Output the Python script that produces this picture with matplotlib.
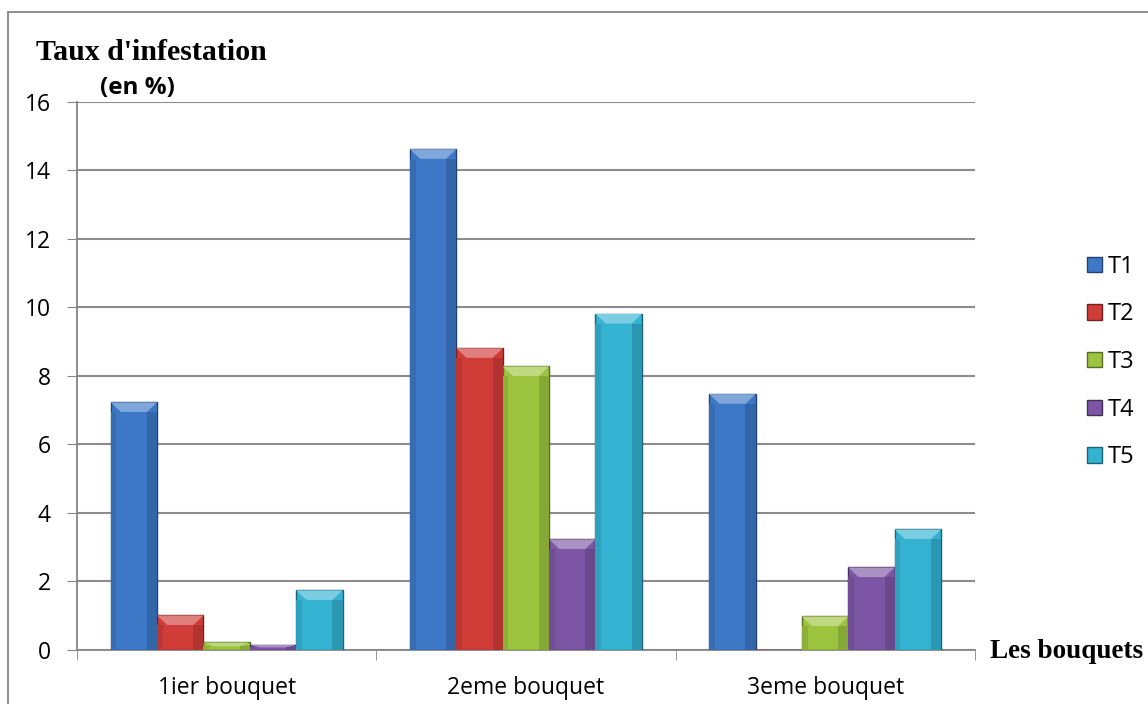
import numpy as np
import matplotlib
matplotlib.use("Agg")
from matplotlib import pyplot as plt
from matplotlib.patches import Polygon, Rectangle
import matplotlib.colors as mcolors

# taux d'infestation par bouquet et par traitement
bouquets = ['1ier bouquet', '2eme bouquet', '3eme bouquet']
series = ['T1', 'T2', 'T3', 'T4', 'T5']
t1 = [7.23, 14.62, 7.47]
t2 = [1.01, 8.81, 0.0]
t3 = [0.22, 8.28, 0.98]
t4 = [0.15, 3.23, 2.41]
t5 = [1.74, 9.81, 3.52]
valeurs = [t1, t2, t3, t4, t5]
couleurs = ['#3c78c6', '#d03c38', '#9cc43e', '#7c56a4', '#34b2d2']

fig = plt.figure(figsize=(11.48, 7.04), dpi=100)
ax = fig.add_axes([0.0671, 0.0767, 0.782, 0.7785])

# cadre du graphique
fig.patches.append(Rectangle((8 / 1148, -0.1), 1.2, (704 - 12) / 704 + 0.1,
                             transform=fig.transFigure, fill=False,
                             edgecolor='#868686', linewidth=1.3))

x = np.arange(len(bouquets))
larg = 0.155


def foncer(c, f):
    r, g, b = mcolors.to_rgb(c)
    return (r * f, g * f, b * f)


def eclaircir(c, f):
    r, g, b = mcolors.to_rgb(c)
    return (r + (1 - r) * f, g + (1 - g) * f, b + (1 - b) * f)


for i, (nom, vals, c) in enumerate(zip(series, valeurs, couleurs)):
    pos = x + (i - 2) * larg
    barres = ax.bar(pos, vals, width=larg, color=c, edgecolor=foncer(c, 0.55),
                    linewidth=1.0, label=nom, zorder=3)
    # biseau en haut de chaque barre
    for b in barres:
        h = b.get_height()
        if h <= 0:
            continue
        x0 = b.get_x()
        w = b.get_width()
        bev = min(0.28, h / 2)
        ins = w * 0.22
        ax.add_patch(Polygon([(x0, h), (x0 + w, h), (x0 + w - ins, h - bev), (x0 + ins, h - bev)],
                             closed=True, facecolor=eclaircir(c, 0.35), edgecolor='none', zorder=4))
        ax.add_patch(Rectangle((x0 + w * 0.78, 0), w * 0.22, h - bev, facecolor=foncer(c, 0.85),
                               edgecolor='none', zorder=4))
        ax.add_patch(Rectangle((x0, 0), w * 0.12, h - bev, facecolor=foncer(c, 0.9),
                               edgecolor='none', zorder=4))

ax.set_xlim(-0.5, 2.5)
ax.set_ylim(0, 16)
ax.set_yticks(range(0, 17, 2))
ax.set_xticks(x)
ax.set_xticklabels(bouquets, family='Open Sans', fontsize=16.5)
ax.set_xticks([-0.5, 0.5, 1.5, 2.5], minor=True)
ax.tick_params(axis='x', which='major', length=0, pad=18.5)
ax.tick_params(axis='x', which='minor', length=7, color='#868686', direction='out')
ax.tick_params(axis='y', length=7, color='#868686', labelsize=16.5, pad=12)
for lab in ax.get_yticklabels():
    lab.set_family('Open Sans')

ax.grid(axis='y', color='#8c8c8c', linewidth=1.5, zorder=0)
for s in ['top', 'right']:
    ax.spines[s].set_visible(False)
ax.spines['left'].set_color('#868686')
ax.spines['bottom'].set_color('#868686')
ax.spines['left'].set_linewidth(1.3)
ax.spines['bottom'].set_linewidth(1.3)

fig.text(36 / 1148, 1 - 52 / 704, "Taux d'infestation", family='Liberation Serif',
         fontweight='bold', fontsize=21.5, va='center', ha='left')
fig.text(100 / 1148, 1 - 88 / 704, "(en %)", family='Open Sans',
         fontweight='bold', fontsize=17.5, va='center', ha='left')
fig.text(990 / 1148, 1 - 651 / 704, "Les bouquets", family='Liberation Serif',
         fontweight='bold', fontsize=19.5, va='center', ha='left')

leg = ax.legend(loc='center left', bbox_to_anchor=(1.125, 0.5255), frameon=False,
                prop={'family': 'Open Sans', 'size': 17}, labelspacing=1.0,
                handlelength=0.64, handleheight=0.64, handletextpad=0.25,
                borderpad=0, borderaxespad=0)

fig.savefig('out.png', dpi=100)
